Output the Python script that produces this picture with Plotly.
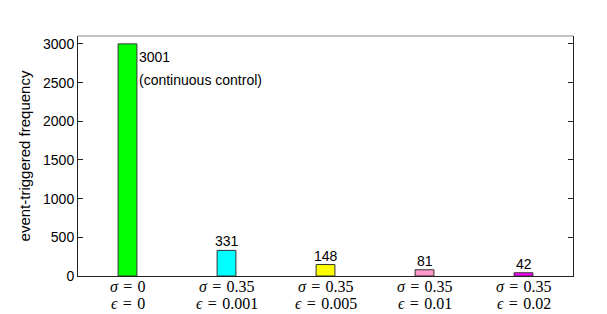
import plotly.graph_objects as go

sigma_labels = ["0", "0.35", "0.35", "0.35", "0.35"]
eps_labels = ["0", "0.001", "0.005", "0.01", "0.02"]
values = [3001, 331, 148, 81, 42]
colors = ["#00ff00", "#00ffff", "#ffff00", "#ff99cc", "#ff00ff"]
yticks = [0, 500, 1000, 1500, 2000, 2500, 3000]

x = list(range(len(values)))
fig = go.Figure(go.Bar(x=x, y=values, width=0.19,
                       marker=dict(color=colors, line=dict(color="#333333", width=1))))

sans = "Liberation Sans, Arial"
serif = "Liberation Serif, DejaVu Serif"
sp = "\u2004"
fig.add_annotation(x=x[0] + 0.1, y=values[0], text="3001", showarrow=False,
                   xanchor="left", yanchor="top", yshift=-3,
                   font=dict(family=sans, size=14, color="black"))
fig.add_annotation(x=x[0] + 0.1, y=values[0], text="(continuous control)", showarrow=False,
                   xanchor="left", yanchor="top", yshift=-26,
                   font=dict(family=sans, size=14, color="black"))
for xi, v in zip(x[1:], values[1:]):
    fig.add_annotation(x=xi, y=v, text=str(v), showarrow=False, yanchor="bottom", yshift=-1,
                       font=dict(family=sans, size=14, color="black"))

# category labels (two lines under each bar)
for xi, s, e in zip(x, sigma_labels, eps_labels):
    fig.add_annotation(x=xi, y=0, yref="paper", text=f"<i>σ</i>{sp}={sp}{s}", showarrow=False,
                       yanchor="middle", yshift=-10,
                       font=dict(family=serif, size=16, color="black"))
    fig.add_annotation(x=xi, y=0, yref="paper", text=f"<i>ϵ</i>{sp}={sp}{e}", showarrow=False,
                       yanchor="middle", yshift=-27,
                       font=dict(family=serif, size=16, color="black"))

fig.update_layout(
    width=599, height=306,
    margin=dict(l=70, r=34, t=28, b=38),
    plot_bgcolor="white", paper_bgcolor="white",
    showlegend=False,
    xaxis=dict(range=[-0.5, 4.5], tickvals=x, showticklabels=False, automargin=False,
               showline=True, linecolor="#222222", linewidth=1, mirror=False,
               ticks="", showgrid=False, zeroline=False),
    yaxis=dict(range=[0, 3103], tickvals=yticks, automargin=False,
               showline=True, linecolor="#222222", linewidth=1, mirror="ticks",
               ticks="inside", ticklen=5, tickcolor="#222222",
               showgrid=False, zeroline=False,
               tickfont=dict(family=sans, size=14, color="black"),
               title=dict(text="event-triggered frequency", standoff=8,
                          font=dict(family=sans, size=15, color="black"))),
)
fig.add_shape(type="line", xref="paper", yref="paper", x0=0, x1=1, y0=1, y1=1,
              line=dict(color="#888888", width=1))

fig.write_html("out.html")
